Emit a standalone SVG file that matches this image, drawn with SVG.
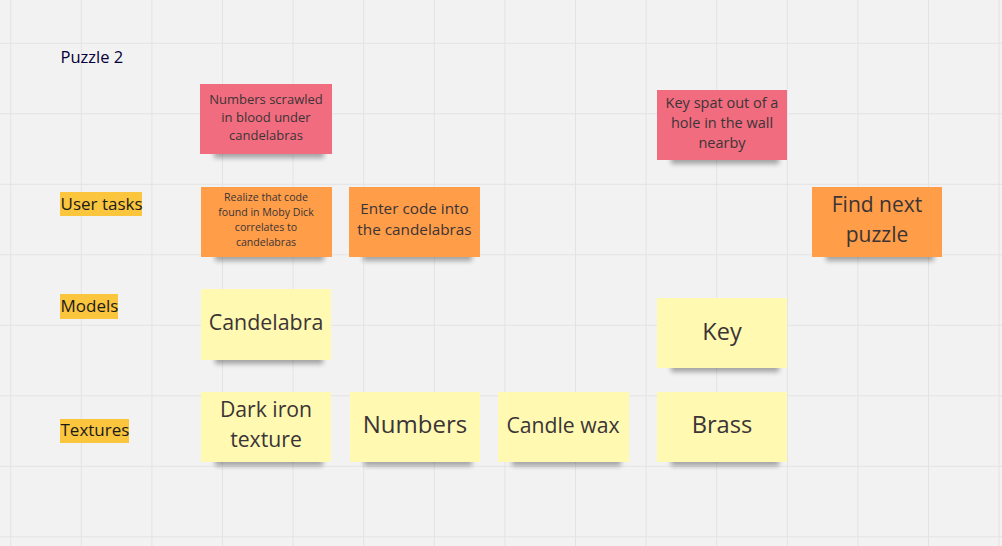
<svg xmlns="http://www.w3.org/2000/svg" width="1002" height="546" viewBox="0 0 1002 546">
<defs>
<filter id="blur" x="-20%" y="-50%" width="140%" height="200%"><feGaussianBlur stdDeviation="2.5"/></filter>
<style>
.bg{fill:#f2f2f2}
.grid line{stroke:#e3e3e3;stroke-width:1}
.sh{fill:#000;opacity:0.32;filter:url(#blur)}
.pink{fill:#f16c7f}
.orange{fill:#ff9d48}
.yellow{fill:#fff9b1}
.nt{font-family:"Open Sans","Liberation Sans",sans-serif;fill:#3b3436;text-anchor:middle}
.lbl{font-family:"Open Sans","Liberation Sans",sans-serif;font-size:17px;fill:#1a1a1a}
.hl{fill:#fbc53e}
</style>
</defs>
<rect class="bg" x="0" y="0" width="1002" height="546"/>
<g class="grid">
<line x1="10.7" y1="0" x2="10.7" y2="546"/><line x1="81.3" y1="0" x2="81.3" y2="546"/><line x1="151.9" y1="0" x2="151.9" y2="546"/><line x1="222.5" y1="0" x2="222.5" y2="546"/><line x1="293.1" y1="0" x2="293.1" y2="546"/><line x1="363.7" y1="0" x2="363.7" y2="546"/><line x1="434.3" y1="0" x2="434.3" y2="546"/><line x1="504.9" y1="0" x2="504.9" y2="546"/><line x1="575.5" y1="0" x2="575.5" y2="546"/><line x1="646.1" y1="0" x2="646.1" y2="546"/><line x1="716.7" y1="0" x2="716.7" y2="546"/><line x1="787.3" y1="0" x2="787.3" y2="546"/><line x1="857.9" y1="0" x2="857.9" y2="546"/><line x1="928.5" y1="0" x2="928.5" y2="546"/><line x1="999.1" y1="0" x2="999.1" y2="546"/>
<line x1="0" y1="43.3" x2="1002" y2="43.3"/><line x1="0" y1="113.8" x2="1002" y2="113.8"/><line x1="0" y1="184.3" x2="1002" y2="184.3"/><line x1="0" y1="254.8" x2="1002" y2="254.8"/><line x1="0" y1="325.3" x2="1002" y2="325.3"/><line x1="0" y1="395.8" x2="1002" y2="395.8"/><line x1="0" y1="466.3" x2="1002" y2="466.3"/><line x1="0" y1="536.8" x2="1002" y2="536.8"/>
</g>

<g id="title"><text x="60.5" y="63" font-family="'Open Sans','Liberation Sans',sans-serif" font-size="16.5" fill="#050038">Puzzle 2</text></g>

<g id="label-user-tasks"><rect class="hl" x="60" y="192" width="82" height="24"/><text class="lbl" x="60.5" y="210">User tasks</text></g>
<g id="label-models"><rect class="hl" x="60" y="294" width="58" height="25"/><text class="lbl" x="60.5" y="312">Models</text></g>
<g id="label-textures"><rect class="hl" x="60" y="419" width="69" height="24"/><text class="lbl" x="60.5" y="436">Textures</text></g>

<g id="note-numbers-blood">
<rect class="sh" x="214" y="144" width="110" height="14"/>
<rect class="pink" x="200" y="84" width="132" height="70"/>
<text class="nt" font-size="13"><tspan x="266" y="104">Numbers scrawled</tspan><tspan x="266" y="122">in blood under</tspan><tspan x="266" y="140">candelabras</tspan></text>
</g>

<g id="note-key-spat">
<rect class="sh" x="671" y="150" width="108" height="14"/>
<rect class="pink" x="657" y="90" width="130" height="70"/>
<text class="nt" font-size="14.5"><tspan x="722" y="108">Key spat out of a</tspan><tspan x="722" y="128">hole in the wall</tspan><tspan x="722" y="148">nearby</tspan></text>
</g>

<g id="note-realize">
<rect class="sh" x="215" y="247" width="109" height="14"/>
<rect class="orange" x="201" y="187" width="131" height="70"/>
<text class="nt" font-size="10.6"><tspan x="266" y="201">Realize that code</tspan><tspan x="266" y="216">found in Moby Dick</tspan><tspan x="266" y="231">correlates to</tspan><tspan x="266" y="246">candelabras</tspan></text>
</g>

<g id="note-enter-code">
<rect class="sh" x="363" y="247" width="109" height="14"/>
<rect class="orange" x="349" y="187" width="131" height="70"/>
<text class="nt" font-size="15.3"><tspan x="414.5" y="214">Enter code into</tspan><tspan x="414.5" y="235">the candelabras</tspan></text>
</g>

<g id="note-find-next">
<rect class="sh" x="826" y="247" width="108" height="14"/>
<rect class="orange" x="812" y="187" width="130" height="70"/>
<text class="nt" font-size="21"><tspan x="877" y="212">Find next</tspan><tspan x="877" y="242">puzzle</tspan></text>
</g>

<g id="note-candelabra">
<rect class="sh" x="215" y="350" width="108" height="14"/>
<rect class="yellow" x="201" y="289" width="130" height="71"/>
<text class="nt" font-size="21.4" x="266" y="330">Candelabra</text>
</g>

<g id="note-key">
<rect class="sh" x="671" y="358" width="108" height="14"/>
<rect class="yellow" x="657" y="298" width="130" height="70"/>
<text class="nt" font-size="23.5" x="722" y="340">Key</text>
</g>

<g id="note-dark-iron">
<rect class="sh" x="215" y="452" width="108" height="14"/>
<rect class="yellow" x="201" y="392" width="130" height="70"/>
<text class="nt" font-size="21.2"><tspan x="266" y="417">Dark iron</tspan><tspan x="266" y="447">texture</tspan></text>
</g>

<g id="note-numbers">
<rect class="sh" x="364" y="452" width="108" height="14"/>
<rect class="yellow" x="350" y="392" width="130" height="70"/>
<text class="nt" font-size="24" x="415" y="433">Numbers</text>
</g>

<g id="note-candle-wax">
<rect class="sh" x="512" y="452" width="109" height="14"/>
<rect class="yellow" x="498" y="392" width="131" height="70"/>
<text class="nt" font-size="21.2" x="563" y="433">Candle wax</text>
</g>

<g id="note-brass">
<rect class="sh" x="671" y="452" width="108" height="14"/>
<rect class="yellow" x="657" y="392" width="130" height="70"/>
<text class="nt" font-size="23.7" x="722" y="433">Brass</text>
</g>

<g id="connectors"></g>
</svg>
